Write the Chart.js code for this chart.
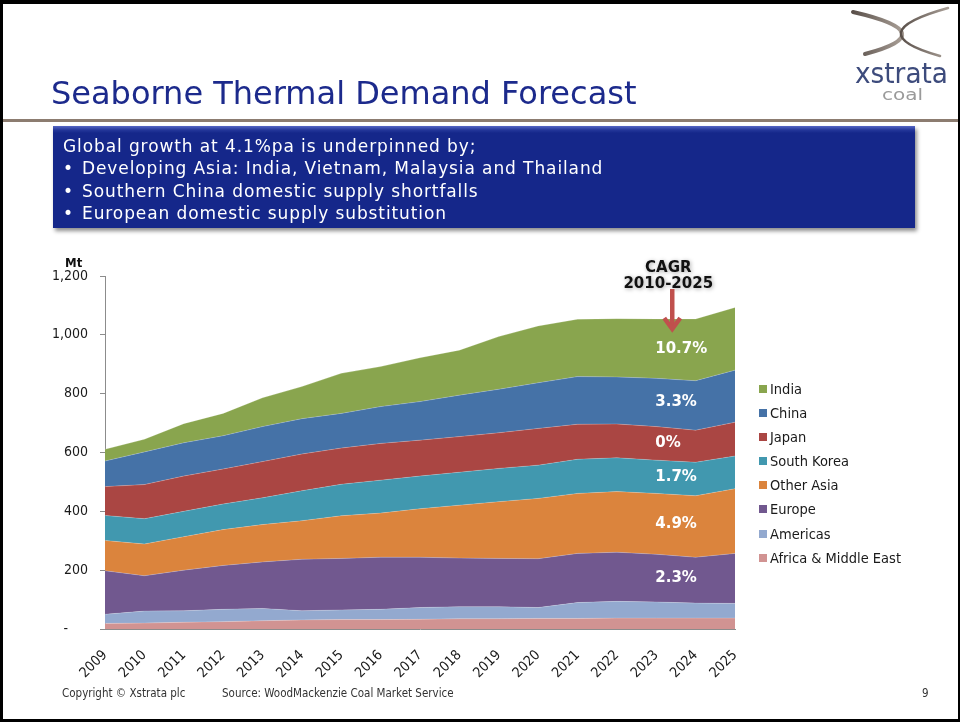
<!DOCTYPE html>
<html>
<head>
<meta charset="utf-8">
<script src="https://cdn.jsdelivr.net/npm/chart.js@4.4.0/dist/chart.umd.min.js"></script>
<style>
  html, body { margin: 0; padding: 0; background: #fff; }
  #slide { position: relative; width: 960px; height: 722px; overflow: hidden; font-family: "DejaVu Sans", sans-serif; }
  #frame { position: absolute; left: 0; top: 0; width: 960px; height: 722px; box-sizing: border-box;
           border-left: 3px solid #000; border-top: 4px solid #000; border-bottom: 3px solid #000; border-right: 2px solid #000;
           pointer-events: none; z-index: 5; }
  #chart { position: absolute; left: 0; top: 0; z-index: 1; }
  .title { position: absolute; left: 51px; top: 77px; font-size: 32px; line-height: 32px; color: #1c2a8c; white-space: nowrap; z-index: 2; }
  .rule { position: absolute; left: 0; top: 119px; width: 960px; height: 3px; background: #8c7c70; z-index: 2; }
  #box { position: absolute; left: 53px; top: 126px; width: 862px; height: 102px; box-sizing: border-box;
         padding: 8.5px 0 0 10px; color: #fff; font-size: 17px; line-height: 22.5px; letter-spacing: 0.9px; white-space: nowrap;
         background: linear-gradient(to bottom, #5566c4 0px, #24379a 4px, #15278a 7px, #15278a 100%);
         box-shadow: 2px 3px 4px rgba(0,0,0,0.45); z-index: 2; }
  #box .b span { display: inline-block; width: 19px; letter-spacing: 0; }
  #legend { position: absolute; left: 759px; top: 377px; z-index: 2; font-family: "DejaVu Sans Condensed", "DejaVu Sans", sans-serif; font-size: 14.5px; color: #1a1a1a; }
  #legend div { position: relative; height: 24.1px; line-height: 24.1px; padding-left: 11px; white-space: nowrap; }
  #legend i { position: absolute; left: 0; top: 8px; width: 8px; height: 8px; }
  .foot { position: absolute; top: 686px; font-family: "DejaVu Sans Condensed", "DejaVu Sans", sans-serif; font-size: 11.5px; line-height: 14px; color: #333; white-space: nowrap; z-index: 2; }
  #logo { position: absolute; left: 840px; top: 0; z-index: 2; }
</style>
</head>
<body>
<div id="slide">
  <canvas id="chart" width="960" height="722"></canvas>
  <svg id="logo" width="118" height="112" viewBox="840 0 118 112">
    <defs>
      <linearGradient id="xg" x1="0" y1="0" x2="1" y2="0">
        <stop offset="0" stop-color="#5a504a"/>
        <stop offset="1" stop-color="#a89e96"/>
      </linearGradient>
    </defs>
    <path d="M853 12 Q945 33 865 54" fill="none" stroke="url(#xg)" stroke-width="4" stroke-linecap="round"/>
    <path d="M948 8 Q858 33 940 56" fill="none" stroke="url(#xg)" stroke-width="2.6" stroke-linecap="round"/>
    <text x="855" y="83" font-family="DejaVu Sans Condensed, DejaVu Sans" font-size="28" fill="#3d4b7c" textLength="93" lengthAdjust="spacingAndGlyphs">xstrata</text>
    <text x="882" y="100" font-family="DejaVu Sans Condensed, DejaVu Sans" font-size="16" fill="#9a9a9a" textLength="41" lengthAdjust="spacingAndGlyphs">coal</text>
  </svg>
  <div class="title">Seaborne Thermal Demand Forecast</div>
  <div class="rule"></div>
  <div id="box">
    <div>Global growth at 4.1%pa is underpinned by;</div>
    <div class="b"><span>•</span>Developing Asia: India, Vietnam, Malaysia and Thailand</div>
    <div class="b"><span>•</span>Southern China domestic supply shortfalls</div>
    <div class="b"><span>•</span>European domestic supply substitution</div>
  </div>
  <div id="legend"></div>
  <div class="foot" style="left:62px">Copyright © Xstrata plc</div>
  <div class="foot" style="left:222px">Source: WoodMackenzie Coal Market Service</div>
  <div class="foot" style="left:922px">9</div>
  <div id="frame"></div>
</div>
<script>
// Seaborne thermal coal demand, Mt
const years = ['2009', '2010', '2011', '2012', '2013', '2014', '2015', '2016', '2017',
               '2018', '2019', '2020', '2021', '2022', '2023', '2024', '2025'];

const africaMiddleEast = [19, 20, 23, 25, 28, 31, 32, 32, 33, 35, 35, 36, 36, 37, 37, 37, 37];
const americas   = [31, 41, 39, 42, 42, 31, 33, 35, 40, 41, 41, 37, 54, 57, 55, 51, 50];
const europe     = [148, 120, 138, 149, 158, 175, 175, 177, 171, 165, 164, 166, 167, 167, 162, 156, 170];
const otherAsia  = [103, 108, 114, 122, 127, 131, 145, 150, 165, 180, 193, 205, 204, 206, 207, 209, 220];
const southKorea = [85, 86, 86, 87, 91, 102, 107, 112, 111, 112, 113, 113, 116, 115, 113, 114, 111];
const japan      = [98, 116, 120, 119, 123, 125, 123, 125, 122, 121, 121, 125, 119, 115, 114, 109, 115];
const china      = [87, 111, 113, 113, 119, 120, 118, 125, 131, 141, 148, 155, 162, 160, 164, 168, 177];
const india      = [40, 43, 65, 76, 98, 109, 136, 136, 149, 153, 179, 193, 195, 198, 202, 210, 213];

// bottom to top
const seriesNames  = ['Africa & Middle East', 'Americas', 'Europe', 'Other Asia', 'South Korea', 'Japan', 'China', 'India'];
const seriesValues = [africaMiddleEast, americas, europe, otherAsia, southKorea, japan, china, india];
const seriesColors = ['#D19392', '#93A9CF', '#71588F', '#DB843D', '#4198AF', '#AA4643', '#4572A7', '#89A54E'];

// CAGR 2010-2025 per series (blank = not shown)
const cagrLabels = ['', '', '2.3%', '4.9%', '1.7%', '0%', '3.3%', '10.7%'];
const cagrColumn = '2023';

const yMax = 1200;
const yStep = 200;

const chartFont = '"DejaVu Sans Condensed", "DejaVu Sans", sans-serif';

const cagrPlugin = {
    id: 'cagr',
    afterDatasetsDraw(chart) {
        const { ctx, chartArea, scales: { x, y } } = chart;
        const col = years.indexOf(cagrColumn);
        const colX = x.getPixelForValue(col);
        ctx.save();

        // growth rates in the middle of each band
        ctx.font = 'bold 15px "DejaVu Sans", sans-serif';
        ctx.fillStyle = '#fff';
        ctx.textAlign = 'left';
        ctx.textBaseline = 'middle';
        let base = 0;
        chart.data.datasets.forEach((ds, i) => {
            const v = ds.data[col];
            if (cagrLabels[i]) ctx.fillText(cagrLabels[i], colX - 1, y.getPixelForValue(base + v / 2));
            base += v;
        });

        // header
        ctx.fillStyle = '#111';
        ctx.textAlign = 'center';
        ctx.textBaseline = 'alphabetic';
        ctx.shadowColor = 'rgba(0,0,0,0.35)';
        ctx.shadowBlur = 4;
        ctx.shadowOffsetX = 1;
        ctx.shadowOffsetY = 1;
        ctx.fillText('CAGR', colX + 12, chartArea.top - 4);
        ctx.fillText('2010-2025', colX + 12, chartArea.top + 12);

        // arrow
        ctx.shadowColor = 'transparent';
        const ax = colX + 16;
        const tip = chartArea.top + 55;
        ctx.strokeStyle = '#C0504D';
        ctx.lineWidth = 4.5;
        ctx.beginPath();
        ctx.moveTo(ax, chartArea.top + 13);
        ctx.lineTo(ax, tip - 2);
        ctx.stroke();
        ctx.lineJoin = 'miter';
        ctx.beginPath();
        ctx.moveTo(ax - 8, tip - 13);
        ctx.lineTo(ax, tip - 2);
        ctx.lineTo(ax + 8, tip - 13);
        ctx.stroke();
        ctx.restore();
    }
};

function buildLegend() {
    const el = document.getElementById('legend');
    el.innerHTML = seriesNames.map((name, i) =>
        `<div><i style="background:${seriesColors[i]}"></i>${name.replace('&', '&amp;')}</div>`
    ).reverse().join('');
}

function initChart() {
    const ctx = document.getElementById('chart').getContext('2d');
    new Chart(ctx, {
        type: 'line',
        data: {
            labels: years,
            datasets: seriesNames.map((name, i) => ({
                label: name,
                data: seriesValues[i],
                backgroundColor: seriesColors[i],
                borderColor: 'rgba(255,255,255,0.25)',
                borderWidth: 0.8,
                pointRadius: 0,
                tension: 0,
                fill: i === 0 ? 'origin' : '-1'
            }))
        },
        options: {
            responsive: false,
            animation: false,
            layout: { padding: { left: 0, top: 276, right: 225, bottom: 0 } },
            plugins: {
                legend: { display: false },
                tooltip: { enabled: false }
            },
            scales: {
                x: {
                    offset: false,
                    grid: { display: false },
                    border: { color: '#8c8c8c' },
                    ticks: {
                        autoSkip: false, minRotation: 45, maxRotation: 45,
                        padding: 10, color: '#1a1a1a',
                        font: { family: chartFont, size: 14 }
                    },
                    afterFit(s) { s.height = 93; }
                },
                y: {
                    stacked: true,
                    min: 0,
                    max: yMax,
                    grid: { drawOnChartArea: false, tickLength: 5, color: '#8c8c8c' },
                    border: { color: '#8c8c8c' },
                    ticks: {
                        stepSize: yStep, padding: 12, color: '#1a1a1a',
                        font: { family: chartFont, size: 14 },
                        callback: v => v === 0 ? '-     ' : v.toLocaleString('en-US')
                    },
                    afterFit(s) { s.width = 105; }
                }
            }
        },
        plugins: [cagrPlugin, {
            id: 'unitLabel',
            afterDraw(chart) {
                const c = chart.ctx;
                c.save();
                c.font = 'bold 13px ' + chartFont;
                c.fillStyle = '#111';
                c.textAlign = 'left';
                c.fillText('Mt', 65, chart.chartArea.top - 9);
                c.restore();
            }
        }]
    });
}

buildLegend();
initChart();
</script>
</body>
</html>
